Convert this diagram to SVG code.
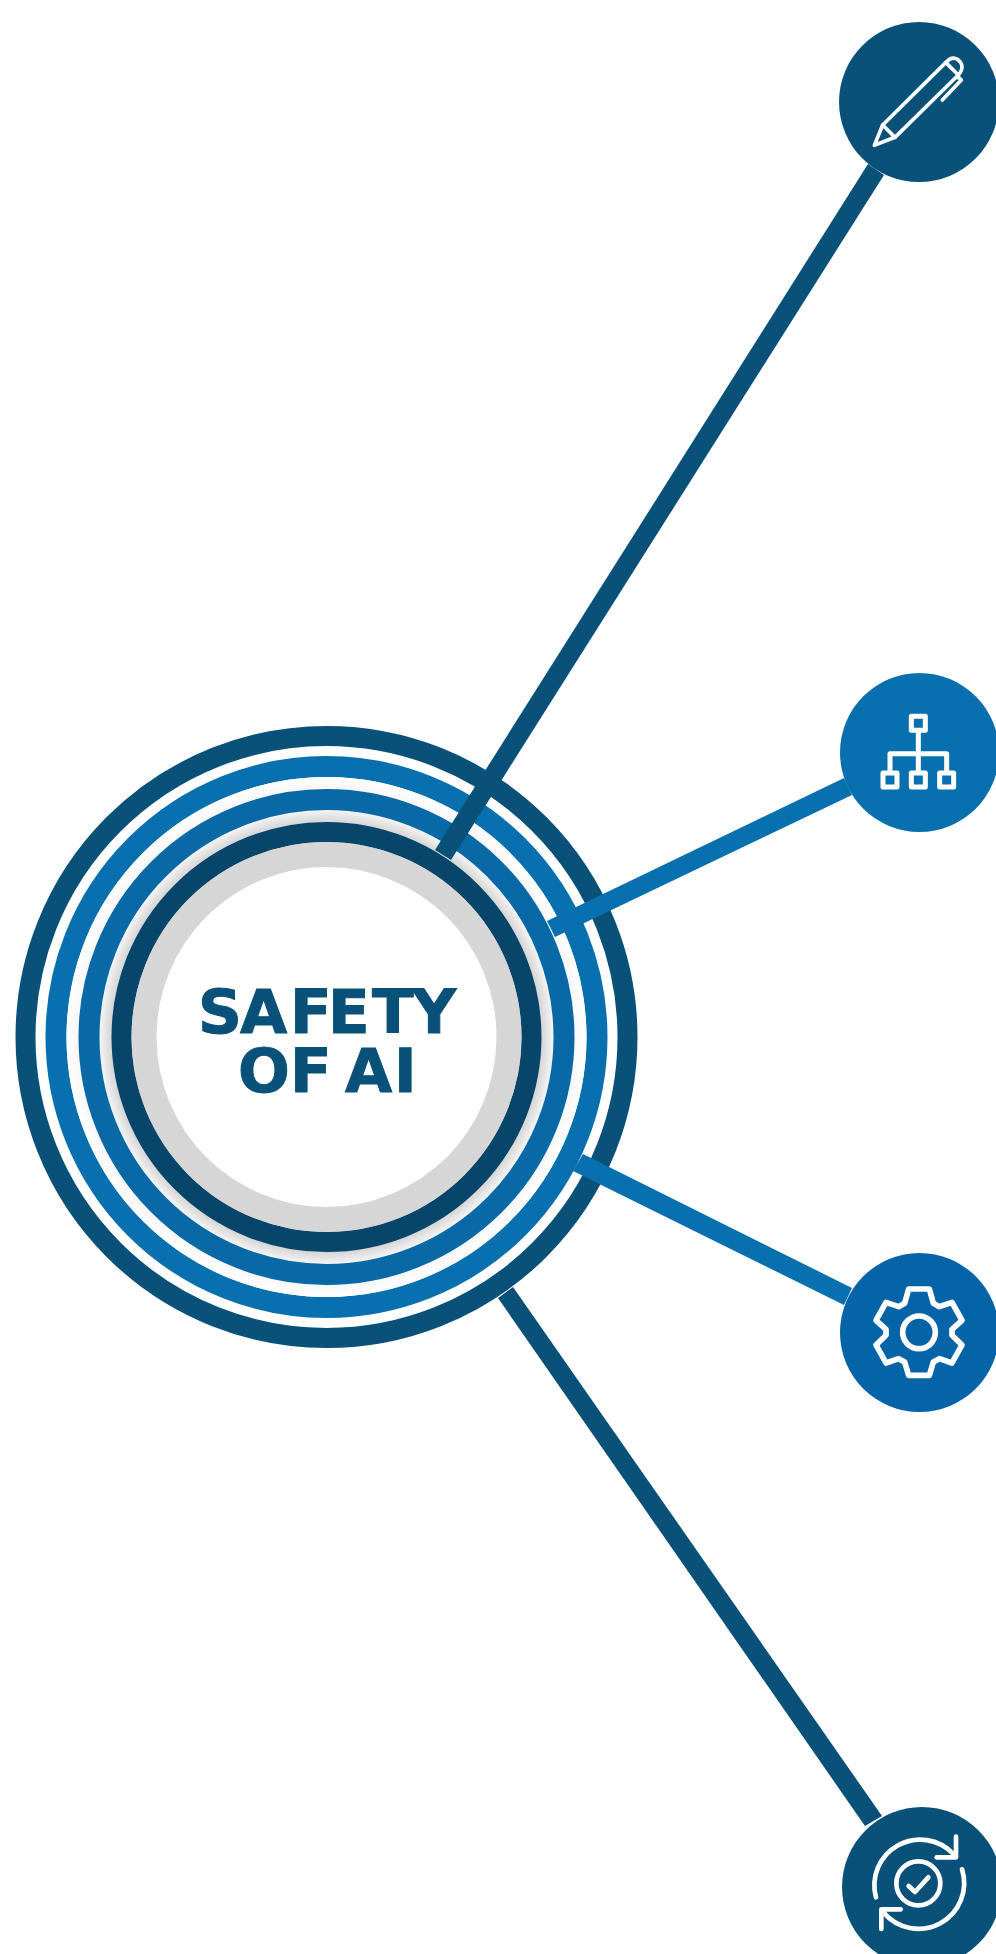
<svg xmlns="http://www.w3.org/2000/svg" width="996" height="1954" viewBox="0 0 996 1954">
<style>
.r{fill:none}
.i{fill:none;stroke:#fff;stroke-linecap:round;stroke-linejoin:round}
.t{font-family:"DejaVu Sans","Liberation Sans",sans-serif;font-weight:700;font-size:61px;fill:#0a5179;stroke:#0a5179;stroke-width:1}
</style>
<defs>
<radialGradient id="gap" gradientUnits="userSpaceOnUse" cx="326.5" cy="1037" r="227">
<stop offset="0.945" stop-color="#d4d4d4"/><stop offset="1" stop-color="#f4f4f4"/>
</radialGradient>
<radialGradient id="gap2" gradientUnits="userSpaceOnUse" cx="326.5" cy="1037" r="260">
<stop offset="0.95" stop-color="#f6f6f6"/><stop offset="1" stop-color="#fff"/>
</radialGradient>
</defs>
<rect width="996" height="1954" fill="#fff"/>
<g id="hub">
<circle class="r" cx="326.5" cy="1037" r="301" stroke="#0a5179" stroke-width="20"/>
<circle class="r" cx="326.5" cy="1037" r="270.5" stroke="#0870ae" stroke-width="21"/>
<circle cx="326.5" cy="1037" r="260" fill="url(#gap2)"/>
<circle cx="326.5" cy="1037" r="227" fill="url(#gap)"/>
<circle class="r" cx="326.5" cy="1037" r="237.5" stroke="#0869a6" stroke-width="21"/>
<circle class="r" cx="326.5" cy="1037" r="205" stroke="#07456b" stroke-width="20"/>
<circle cx="326.5" cy="1037" r="195" fill="#d6d6d6"/>
<circle cx="326.5" cy="1037" r="170" fill="#fff"/>
<text class="t"><tspan x="198 240 290 328 372 412" y="1033">SAFETY</tspan><tspan x="238 290 330 345 394" y="1092">OF AI</tspan></text>
</g>
<g id="connectors">
<polygon points="435,850 451,860 884,175 868,164" fill="#0a5179"/>
<polygon points="547,921 555,937 852,795 844,778" fill="#0870ae"/>
<polygon points="583,1154 573,1171 844,1305 852,1288" fill="#0870ae"/>
<polygon points="513,1287 498,1298 865,1826 882,1816" fill="#0a5179"/>
</g>
<g id="node-pen">
<circle cx="919" cy="102" r="80" fill="#0a5179"/>
<g transform="translate(820 0) scale(.33333)" class="i" stroke-width="11">
<path d="M163 436L188 375L380 185Q395 168 413 178Q438 198 415 225L225 412Z"/>
<path d="M188 375L225 412M380 190L415 225M410 232Q418 232 424 240L367 300"/>
</g>
</g>
<g id="node-hierarchy">
<circle cx="919.5" cy="752.5" r="79.5" fill="#0870ae"/>
<g transform="translate(820 650) scale(.33333)" class="i" stroke-width="15">
<rect x="274" y="199" width="42" height="42"/><rect x="189" y="369" width="42" height="42"/><rect x="274" y="369" width="42" height="42"/><rect x="359" y="369" width="42" height="42"/>
<path d="M295 243V367M210 367V311H380V367"/>
</g>
</g>
<g id="node-gear">
<circle cx="919.5" cy="1332.5" r="79.5" fill="#0563a8"/>
<g transform="translate(820 1240) scale(.33333)" class="i" stroke-width="17">
<path d="M266 147H328L340 190L358 200L396 187L426 241L396 268V286L426 315L396 369L358 356L340 366L328 406H266L254 366L236 356L198 369L168 315L198 286V268L168 241L198 187L236 200L254 190Z"/>
<circle cx="297" cy="277" r="49"/>
</g>
</g>
<g id="node-cycle">
<circle cx="922" cy="1887" r="80" fill="#0a5179"/>
<g transform="translate(820 1764) scale(.33333)" class="i" stroke-width="14">
<circle cx="295" cy="358" r="66"/>
<path d="M266 366L285 384L325 340"/>
<path d="M168 400A137 137 0 0 1 400 270M408 218V280H350"/>
<path d="M426 316A137 137 0 0 1 190 445M184 495V436H242"/>
</g>
</g>
</svg>
